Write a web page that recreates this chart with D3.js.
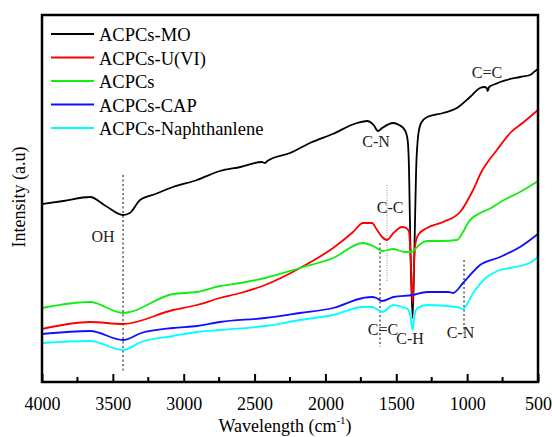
<!DOCTYPE html>
<html>
<head>
<meta charset="utf-8">
<script src="https://cdn.jsdelivr.net/npm/d3@7"></script>
<style>
  body { margin: 0; background: #fff; }
  svg { display: block; }
  svg text { font-family: "Liberation Serif", "Times New Roman", serif; }
</style>
</head>
<body>
<svg id="chart"></svg>
<script>
// FTIR spectra, wavenumber (cm-1) vs intensity (arbitrary units, offset curves)
var waveMO = [4000, 3850, 3661, 3550, 3428, 3380, 3308, 3200, 3075, 2906, 2744, 2600, 2450, 2426, 2410, 2250, 2109, 1950, 1777, 1706, 1660, 1629, 1600, 1523, 1480, 1440, 1420, 1410, 1400, 1385, 1372, 1360, 1345, 1325, 1283, 1170, 1072, 980, 909, 880, 862, 855, 845, 800, 768, 627, 556, 520, 500];
var mo = [178, 181, 185, 176, 167, 169, 182, 188, 195, 202, 211, 215, 220, 219, 221, 229, 239, 248, 259, 261, 257, 251, 254, 259, 257, 252, 242, 212, 132, 64, 132, 212, 247, 259, 265, 269, 274, 285, 294, 295, 294, 291, 295, 298, 300, 305, 307, 311, 313];

var waveU = [4000, 3661, 3428, 3075, 2906, 2744, 2600, 2426, 2179, 1946, 1805, 1735, 1671, 1640, 1600, 1565, 1520, 1460, 1430, 1410, 1398, 1385, 1372, 1360, 1340, 1283, 1170, 1050, 958, 900, 860, 790, 697, 600, 500];
var uvi = [53, 60, 58, 72, 77, 84, 89, 97, 114, 134, 150, 159, 159, 153, 145, 142, 149, 155, 154, 150, 122, 79, 127, 142, 148, 154, 160, 170, 192, 210, 219, 232, 249, 260, 272];

var waveA = [4000, 3661, 3428, 3075, 2906, 2744, 2600, 2426, 2179, 1946, 1735, 1650, 1600, 1520, 1440, 1390, 1360, 1320, 1283, 1180, 1072, 1029, 990, 909, 860, 740, 627, 500];
var acpcs = [74, 80, 69, 88, 90, 96, 99, 104, 114, 124, 139, 135, 131, 133, 130, 130, 134, 139, 141, 141, 142, 150, 160, 169, 172, 182, 190, 201];

var waveCAP = [4000, 3661, 3428, 3300, 3075, 2906, 2744, 2426, 2179, 1946, 1735, 1671, 1640, 1600, 1520, 1385, 1283, 1130, 1100, 1029, 909, 768, 627, 500];
var cap = [48, 51, 42, 49, 54, 56, 60, 64, 69, 74, 84, 85, 84, 81, 85, 87, 90, 90, 89, 99, 117, 125, 135, 148];

var waveN = [4000, 3661, 3428, 3300, 3075, 2906, 2744, 2426, 2179, 1946, 1735, 1671, 1640, 1600, 1520, 1460, 1420, 1400, 1385, 1372, 1350, 1283, 1072, 1029, 958, 860, 800, 768, 700, 627, 560, 500];
var naph = [39, 41, 32, 40, 46, 50, 52, 56, 62, 67, 75, 75, 73, 70, 77, 75, 73, 66, 52, 66, 74, 77, 75, 73, 89, 105, 110, 112, 114, 116, 119, 125];

var seriesNames = ["ACPCs-MO", "ACPCs-U(VI)", "ACPCs", "ACPCs-CAP", "ACPCs-Naphthanlene"];
var seriesColors = ["#000000", "#ff0000", "#11ee11", "#1010ff", "#00ffff"];
var xTicks = [4000, 3500, 3000, 2500, 2000, 1500, 1000, 500];
var xMinor = [3750, 3250, 2750, 2250, 1750, 1250, 750];

var width = 552, height = 437;
var margin = {top: 15, right: 14, bottom: 55, left: 42};
var serif = "Liberation Serif, Times New Roman, serif";

var svg = d3.select("#chart")
            .attr("width", width)
            .attr("height", height)
            .attr("font-family", serif);

var x = d3.scaleLinear()
          .domain([4000, 500])
          .range([margin.left, width - margin.right]);

var y = d3.scaleLinear()
          .domain([0, 367])
          .range([height - margin.bottom, margin.top]);

var line = d3.line()
             .x(d => x(d[0]))
             .y(d => y(d[1]))
             .curve(d3.curveMonotoneX);

var allSeries = [
  d3.zip(waveMO, mo),
  d3.zip(waveU, uvi),
  d3.zip(waveA, acpcs),
  d3.zip(waveCAP, cap),
  d3.zip(waveN, naph)
];

// dotted marker lines (drawn under curves)
var markers = [
  {w: 3428, y0: 207, y1: 10, color: "#333", dash: "2,2.5"},
  {w: 1566, y0: 197, y1: 100, color: "#aaa", dash: "1,1.5"},
  {w: 1615, y0: 139, y1: 35, color: "#333", dash: "2,2.5"},
  {w: 1022, y0: 122, y1: 49, color: "#333", dash: "2,2.5"}
];
svg.selectAll(".marker")
   .data(markers)
   .enter().append("line")
   .attr("class", "marker")
   .attr("x1", d => x(d.w))
   .attr("x2", d => x(d.w))
   .attr("y1", d => y(d.y0))
   .attr("y2", d => y(d.y1))
   .attr("stroke", d => d.color)
   .attr("stroke-width", 1.2)
   .attr("stroke-dasharray", d => d.dash);

svg.selectAll(".spectrum")
   .data(allSeries)
   .enter().append("path")
   .attr("class", "spectrum")
   .attr("d", line)
   .attr("fill", "none")
   .attr("stroke", (d, i) => seriesColors[i])
   .attr("stroke-width", 1.8)
   .attr("stroke-linejoin", "round");

// peak labels
var peakLabels = [
  {text: "OH", w: 3570, v: 140},
  {text: "C-N", w: 1643, v: 235},
  {text: "C=C", w: 860, v: 304},
  {text: "C-C", w: 1544, v: 169},
  {text: "C=C", w: 1594, v: 47},
  {text: "C-H", w: 1403, v: 38},
  {text: "C-N", w: 1047, v: 44}
];
svg.selectAll(".peak")
   .data(peakLabels)
   .enter().append("text")
   .attr("class", "peak")
   .attr("x", d => x(d.w))
   .attr("y", d => y(d.v))
   .attr("text-anchor", "middle")
   .attr("font-size", 16)
   .attr("fill", "#222")
   .text(d => d.text);

// frame
svg.append("rect")
   .attr("x", margin.left)
   .attr("y", margin.top)
   .attr("width", width - margin.left - margin.right)
   .attr("height", height - margin.top - margin.bottom)
   .attr("fill", "none")
   .attr("stroke", "#000")
   .attr("stroke-width", 2.5);

// x axis, ticks pointing inward
var xAxis = svg.append("g")
               .attr("transform", `translate(0,${height - margin.bottom})`)
               .call(d3.axisBottom(x).tickValues(xTicks).tickSize(-8).tickSizeOuter(0).tickFormat(d3.format("d")))
               .attr("font-family", serif)
               .attr("font-size", 18);
xAxis.select(".domain").remove();
xAxis.selectAll(".tick line").attr("stroke-width", 2);
xAxis.selectAll(".tick text")
     .attr("y", 15)
     .attr("fill", "#000");

svg.append("g")
   .attr("transform", `translate(0,${height - margin.bottom})`)
   .selectAll("line")
   .data(xMinor)
   .enter().append("line")
   .attr("x1", d => x(d))
   .attr("x2", d => x(d))
   .attr("y1", 0)
   .attr("y2", -5)
   .attr("stroke", "#000")
   .attr("stroke-width", 2);

// axis titles
var xTitle = svg.append("text")
                .attr("x", 285)
                .attr("y", 432)
                .attr("text-anchor", "middle")
                .attr("font-size", 18);
xTitle.append("tspan").text("Wavelength (cm");
xTitle.append("tspan").attr("font-size", 11).attr("dy", -8).text("-1");
xTitle.append("tspan").attr("dy", 8).text(")");

svg.append("text")
   .attr("transform", "translate(25,197) rotate(-90)")
   .attr("text-anchor", "middle")
   .attr("font-size", 18)
   .text("Intensity (a.u)");

// legend
var legend = svg.append("g").attr("class", "legend");
var rows = legend.selectAll("g")
                 .data(seriesNames)
                 .enter().append("g")
                 .attr("transform", (d, i) => `translate(0,${34 + i * 23.5})`);
rows.append("line")
    .attr("x1", 51)
    .attr("x2", 94)
    .attr("stroke", (d, i) => seriesColors[i])
    .attr("stroke-width", 2);
rows.append("text")
    .attr("x", 99)
    .attr("y", 7)
    .attr("font-size", 18.5)
    .text(d => d);
</script>
</body>
</html>
